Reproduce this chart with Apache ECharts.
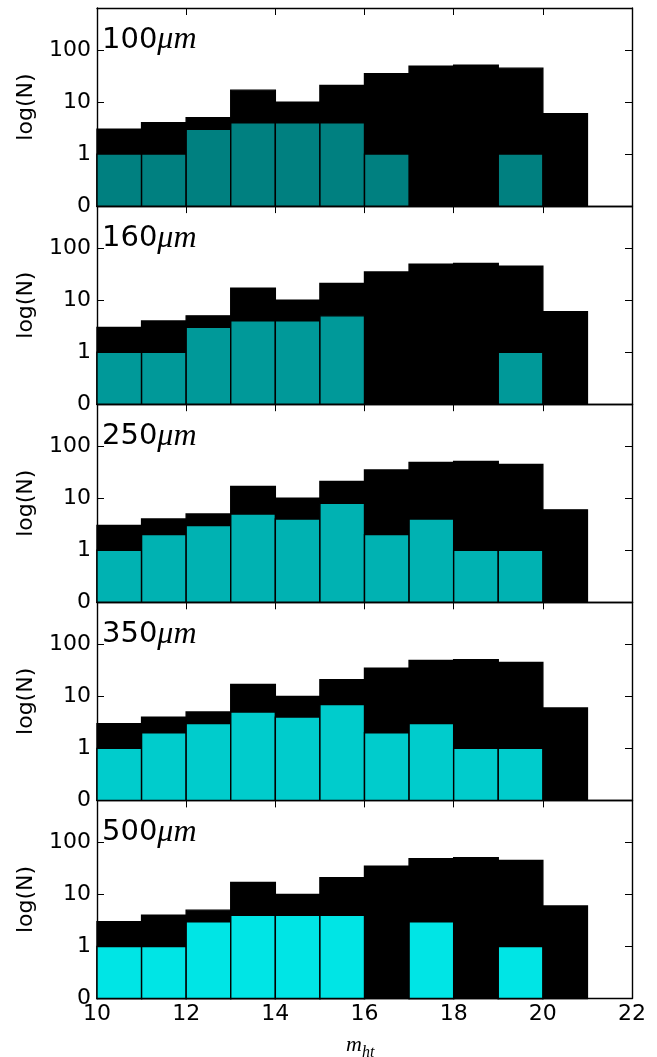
<!DOCTYPE html>
<html>
<head>
<meta charset="utf-8">
<script src="https://cdn.jsdelivr.net/npm/echarts@6/dist/echarts.min.js"></script>
<style>
  html, body { margin: 0; padding: 0; background: #fff; }
  #chart { width: 657px; height: 1057px; }
</style>
</head>
<body>
<div id="chart"></div>
<script>
// Histogram bin edges (m_ht), one bin per magnitude
const binEdges = [10, 11, 12, 13, 14, 15, 16, 17, 18, 19, 20, 21];
// All sources per bin
const totalCounts = [3, 4, 5, 17, 10, 21, 35, 49, 51, 45, 6];
// Detected sources per band
const bandLabels = ['100', '160', '250', '350', '500'];
const counts100 = [1, 1, 3, 4, 4, 4, 1, 0, 0, 1, 0];
const counts160 = [1, 1, 3, 4, 4, 5, 0, 0, 0, 1, 0];
const counts250 = [1, 2, 3, 5, 4, 8, 2, 4, 1, 1, 0];
const counts350 = [1, 2, 3, 5, 4, 7, 2, 3, 1, 1, 0];
const counts500 = [1, 1, 3, 4, 4, 4, 0, 3, 0, 1, 0];
const bandCounts = [counts100, counts160, counts250, counts350, counts500];
const bandColors = ['#008080', '#009999', '#00b2b2', '#00cccc', '#00e5e5'];
// Tick labels of the symmetric-log count axis (0, then decades)
const yTickLabels = ['0', '1', '10', '100'];
const xTickStep = 2;

// Linear below 1, logarithmic above, one decade per unit
function symlog(v) { return v <= 1 ? v : 1 + Math.log10(v); }

function binData(counts) {
  const out = [];
  counts.forEach((c, i) => {
    if (c > 0) out.push([binEdges[i], binEdges[i + 1], symlog(c), c]);
  });
  return out;
}

function renderBin(params, api) {
  const p0 = api.coord([api.value(0), api.value(2)]);
  const p1 = api.coord([api.value(1), 0]);
  return {
    type: 'rect',
    shape: { x: p0[0], y: p0[1], width: p1[0] - p0[0], height: p1[1] - p0[1] },
    style: { fill: api.visual('color'), stroke: '#000', lineWidth: 1.4 }
  };
}

const FONT = 'DejaVu Sans';
const nPanels = bandLabels.length;
const plotLeft = 97, plotWidth = 535, plotTop = 8, panelH = 198.1;
const yMax = 3.81;

const grids = [], xAxes = [], yAxes = [], series = [], titles = [];
const lineStyle = { color: '#000', width: 1.4 };

for (let i = 0; i < nPanels; i++) {
  const top = plotTop + i * panelH;
  grids.push({ left: plotLeft, width: plotWidth, top: top, height: panelH, containLabel: false });
  const isLast = i === nPanels - 1;
  const xBase = {
    type: 'value', gridIndex: i, min: 10, max: 22, interval: xTickStep,
    axisLine: { show: true, onZero: false, lineStyle: lineStyle },
    axisTick: { show: true, inside: true, length: 7, lineStyle: { color: '#000', width: 1 } },
    splitLine: { show: false }
  };
  xAxes.push(Object.assign({}, xBase, {
    position: 'bottom',
    axisLabel: { show: isLast, color: '#000', fontFamily: FONT, fontSize: 22, margin: 5 }
  }));
  xAxes.push(Object.assign({}, xBase, { position: 'top', axisLabel: { show: false } }));

  const yBase = {
    type: 'value', gridIndex: i, min: 0, max: yMax, interval: 1,
    axisLine: { show: true, onZero: false, lineStyle: lineStyle },
    axisTick: { show: true, inside: true, length: 7, lineStyle: { color: '#000', width: 1 } },
    splitLine: { show: false }
  };
  yAxes.push(Object.assign({}, yBase, {
    position: 'left',
    name: 'log(N)', nameLocation: 'middle', nameRotate: 90, nameGap: 60,
    nameTextStyle: { color: '#000', fontFamily: FONT, fontSize: 22 },
    axisLabel: {
      color: '#000', fontFamily: FONT, fontSize: 22, margin: 6,
      formatter: v => (Number.isInteger(v) && v < yTickLabels.length) ? yTickLabels[v] : ''
    }
  }));
  yAxes.push(Object.assign({}, yBase, { position: 'right', axisLabel: { show: false } }));

  series.push({
    type: 'custom', name: 'all', xAxisIndex: 2 * i, yAxisIndex: 2 * i,
    renderItem: renderBin, itemStyle: { color: '#000' },
    encode: { x: [0, 1], y: 2 }, data: binData(totalCounts), z: 1, silent: true
  });
  series.push({
    type: 'custom', name: bandLabels[i], xAxisIndex: 2 * i, yAxisIndex: 2 * i,
    renderItem: renderBin, itemStyle: { color: bandColors[i] },
    encode: { x: [0, 1], y: 2 }, data: binData(bandCounts[i]), z: 2, silent: true
  });

  titles.push({
    text: '{n|' + bandLabels[i] + '}{u|μm}',
    left: plotLeft, top: top + 11,
    textStyle: {
      fontWeight: 'normal',
      rich: {
        n: { fontFamily: FONT, fontSize: 29, fontWeight: 'normal', color: '#000' },
        u: { fontFamily: 'Liberation Serif', fontStyle: 'italic', fontWeight: 'normal', fontSize: 32, color: '#000' }
      }
    }
  });
}

const chart = echarts.init(document.getElementById('chart'), null, { renderer: 'canvas' });
chart.setOption({
  animation: false,
  backgroundColor: '#fff',
  title: titles,
  grid: grids,
  xAxis: xAxes,
  yAxis: yAxes,
  series: series,
  graphic: [
    { type: 'text', left: 346, top: 1034,
      style: { text: 'm', fontFamily: 'Liberation Serif', fontStyle: 'italic', fontSize: 22, fill: '#000' } },
    { type: 'text', left: 362, top: 1045,
      style: { text: 'ht', fontFamily: 'Liberation Serif', fontStyle: 'italic', fontSize: 16, fill: '#000' } }
  ]
});
</script>
</body>
</html>
